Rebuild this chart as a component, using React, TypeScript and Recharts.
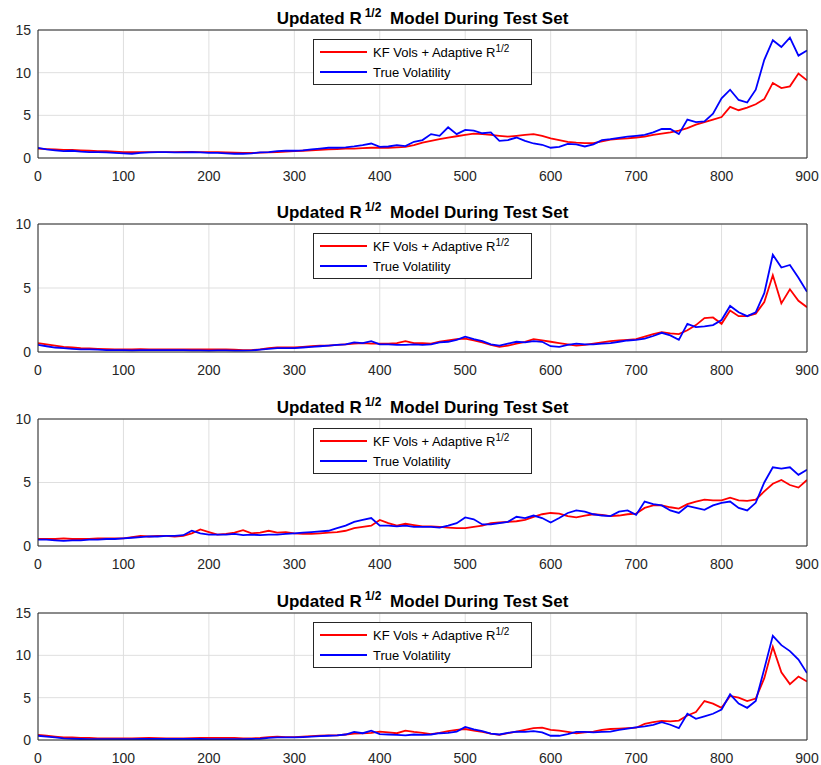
import React from 'react';
import { LineChart, Line, XAxis, YAxis, CartesianGrid, Legend } from 'recharts';

// Time index of the test set (sampled every 10 steps)
const steps = [
  0, 10, 20, 30, 40, 50, 60, 70, 80, 90,
  100, 110, 120, 130, 140, 150, 160, 170, 180, 190,
  200, 210, 220, 230, 240, 250, 260, 270, 280, 290,
  300, 310, 320, 330, 340, 350, 360, 370, 380, 390,
  400, 410, 420, 430, 440, 450, 460, 470, 480, 490,
  500, 510, 520, 530, 540, 550, 560, 570, 580, 590,
  600, 610, 620, 630, 640, 650, 660, 670, 680, 690,
  700, 710, 720, 730, 740, 750, 760, 770, 780, 790,
  800, 810, 820, 830, 840, 850, 860, 870, 880, 890,
  900,
];

const xTicks = [0, 100, 200, 300, 400, 500, 600, 700, 800, 900];
const yTicks15 = [0, 5, 10, 15];
const yTicks10 = [0, 5, 10];

const kfName = 'KF Vols + Adaptive R^{1/2}';
const tvName = 'True Volatility';
const titleMain = 'Updated R';
const titleSup = '1/2';
const titleRest = 'Model During Test Set';

// Panel 1
const kf1 = [
  1.1, 1.05, 1.0, 0.95, 0.95, 0.9, 0.85, 0.8, 0.8, 0.75,
  0.7, 0.7, 0.7, 0.7, 0.7, 0.7, 0.7, 0.72, 0.72, 0.7,
  0.7, 0.68, 0.65, 0.62, 0.6, 0.6, 0.62, 0.65, 0.7, 0.75,
  0.8, 0.85, 0.9, 0.95, 1.0, 1.05, 1.1, 1.1, 1.15, 1.2,
  1.2, 1.2, 1.25, 1.3, 1.5, 1.8, 2.0, 2.2, 2.4, 2.55,
  2.7, 2.85, 2.8, 2.7, 2.6, 2.5, 2.6, 2.7, 2.8, 2.6,
  2.3, 2.1, 1.9, 1.8, 1.75, 1.75, 1.95, 2.15, 2.25, 2.3,
  2.4, 2.5, 2.7, 2.85, 3.0, 3.2, 3.5, 3.9, 4.2, 4.5,
  4.8, 6.0, 5.6, 5.9, 6.3, 6.9, 8.8, 8.2, 8.4, 9.9,
  9.1,
];
const tv1 = [
  1.2, 1.0, 0.9, 0.8, 0.85, 0.75, 0.7, 0.7, 0.65, 0.6,
  0.55, 0.5, 0.6, 0.65, 0.7, 0.7, 0.65, 0.65, 0.7, 0.65,
  0.6, 0.6, 0.55, 0.5, 0.5, 0.55, 0.65, 0.7, 0.8, 0.85,
  0.85, 0.9, 1.0, 1.1, 1.2, 1.2, 1.25, 1.35, 1.5, 1.7,
  1.3, 1.35, 1.5, 1.4, 1.9, 2.1, 2.8, 2.6, 3.6, 2.8,
  3.3, 3.2, 2.9, 3.0, 2.0, 2.1, 2.4, 2.0, 1.7, 1.55,
  1.2, 1.3, 1.65, 1.6, 1.35, 1.6, 2.1, 2.2, 2.35, 2.5,
  2.6, 2.7, 3.0, 3.4, 3.4, 2.8, 4.5, 4.2, 4.3, 5.2,
  7.0, 8.0, 6.8, 6.5, 8.0, 11.5, 13.8, 13.0, 14.1, 12.0,
  12.6,
];

// Panel 2
const kf2 = [
  0.7, 0.6, 0.5, 0.4, 0.35, 0.3, 0.28, 0.25, 0.22, 0.2,
  0.2, 0.2, 0.22, 0.2, 0.2, 0.2, 0.2, 0.2, 0.2, 0.2,
  0.2, 0.2, 0.2, 0.18, 0.15, 0.15, 0.2, 0.3, 0.35, 0.35,
  0.35, 0.4, 0.45, 0.5, 0.5, 0.55, 0.6, 0.65, 0.7, 0.65,
  0.65, 0.65, 0.7, 0.85, 0.7, 0.7, 0.65, 0.8, 0.9, 1.0,
  1.05, 0.9, 0.75, 0.55, 0.4, 0.5, 0.65, 0.8, 1.0, 0.9,
  0.8, 0.7, 0.6, 0.5, 0.55, 0.65, 0.75, 0.85, 0.9, 0.95,
  1.0, 1.2, 1.4, 1.55, 1.45, 1.4, 1.7, 2.1, 2.65, 2.7,
  2.2, 3.25, 2.8, 2.8, 3.0, 3.9, 6.0, 3.8, 4.9, 4.0,
  3.5,
];
const tv2 = [
  0.55, 0.45, 0.35, 0.3, 0.25, 0.2, 0.2, 0.18, 0.15, 0.15,
  0.15, 0.12, 0.15, 0.15, 0.15, 0.15, 0.15, 0.15, 0.12, 0.12,
  0.1, 0.12, 0.12, 0.1, 0.1, 0.12, 0.18, 0.25, 0.3, 0.3,
  0.3, 0.35, 0.4, 0.45, 0.5, 0.55, 0.6, 0.75, 0.7, 0.85,
  0.6, 0.6, 0.55, 0.55, 0.6, 0.55, 0.6, 0.75, 0.8, 0.95,
  1.2, 1.0, 0.85, 0.6, 0.5, 0.65, 0.8, 0.75, 0.85, 0.8,
  0.45, 0.4, 0.55, 0.65, 0.6, 0.6, 0.65, 0.7, 0.8, 0.9,
  0.95, 1.05, 1.25, 1.5, 1.3, 0.95, 2.2, 1.95, 2.0, 2.1,
  2.5, 3.6, 3.1, 2.8, 3.1, 4.6, 7.6, 6.6, 6.8, 5.8,
  4.7,
];

// Panel 3
const kf3 = [
  0.55, 0.55, 0.55, 0.6, 0.55, 0.55, 0.55, 0.6, 0.6, 0.6,
  0.6, 0.7, 0.8, 0.75, 0.8, 0.8, 0.75, 0.8, 1.0, 1.3,
  1.1, 0.9, 0.95, 1.05, 1.25, 1.0, 1.05, 1.2, 1.05, 1.1,
  1.0, 0.95, 0.95, 1.0, 1.05, 1.1, 1.2, 1.4, 1.5, 1.6,
  2.05, 1.8, 1.6, 1.75, 1.65, 1.55, 1.55, 1.5, 1.45, 1.4,
  1.4, 1.5, 1.6, 1.8, 1.85, 1.9, 1.95, 2.05, 2.3, 2.5,
  2.6, 2.55, 2.35, 2.25, 2.4, 2.5, 2.45, 2.35, 2.4, 2.5,
  2.55, 3.0, 3.2, 3.2, 3.05, 2.95, 3.3, 3.5, 3.65, 3.6,
  3.6, 3.8, 3.6, 3.55, 3.65, 4.3, 4.9, 5.2, 4.8, 4.6,
  5.2,
];
const tv3 = [
  0.5, 0.5, 0.45, 0.4, 0.45, 0.45, 0.5, 0.5, 0.55, 0.55,
  0.6, 0.65, 0.7, 0.75, 0.75, 0.8, 0.8, 0.85, 1.2, 1.0,
  0.9, 0.9, 0.9, 0.95, 0.85, 0.9, 0.85, 0.9, 0.9, 0.95,
  1.0, 1.05, 1.1, 1.15, 1.2, 1.4, 1.6, 1.9, 2.05, 2.2,
  1.6, 1.6, 1.55, 1.6, 1.5, 1.5, 1.5, 1.45, 1.6, 1.8,
  2.25, 2.1, 1.7, 1.7, 1.8, 1.9, 2.3, 2.2, 2.4, 2.2,
  1.85, 2.2, 2.6, 2.8, 2.7, 2.5, 2.4, 2.35, 2.7, 2.8,
  2.45, 3.5, 3.3, 3.2, 2.8, 2.6, 3.15, 3.0, 2.85, 3.2,
  3.4, 3.5, 3.0, 2.8, 3.4, 5.0, 6.2, 6.1, 6.2, 5.6,
  6.0,
];

// Panel 4
const kf4 = [
  0.6, 0.5, 0.4, 0.3, 0.3, 0.25, 0.25, 0.2, 0.2, 0.2,
  0.2, 0.2, 0.22, 0.25, 0.22, 0.2, 0.2, 0.2, 0.22, 0.25,
  0.25, 0.25, 0.25, 0.25, 0.2, 0.2, 0.25, 0.35, 0.4, 0.35,
  0.35, 0.4, 0.45, 0.5, 0.55, 0.55, 0.65, 0.75, 0.8, 0.85,
  1.0, 0.9, 0.8, 1.1, 0.95, 0.85, 0.7, 0.85, 1.05, 1.2,
  1.3, 1.1, 0.95, 0.75, 0.6, 0.8, 1.0, 1.2, 1.4, 1.45,
  1.2, 1.1, 0.95, 0.8, 0.9, 1.0, 1.2, 1.3, 1.35, 1.4,
  1.45, 1.9, 2.1, 2.25, 2.2, 2.3, 2.9, 3.3, 4.6, 4.3,
  3.8, 5.2, 5.0, 4.6, 4.9, 7.3, 11.0, 8.0, 6.6, 7.5,
  6.9,
];
const tv4 = [
  0.5, 0.4, 0.3, 0.2, 0.15, 0.12, 0.1, 0.1, 0.1, 0.1,
  0.1, 0.1, 0.12, 0.12, 0.12, 0.12, 0.12, 0.12, 0.12, 0.12,
  0.1, 0.1, 0.1, 0.1, 0.1, 0.12, 0.15, 0.25, 0.3, 0.3,
  0.3, 0.35, 0.4, 0.45, 0.5, 0.55, 0.65, 0.95, 0.8, 1.1,
  0.7, 0.65, 0.6, 0.55, 0.65, 0.6, 0.65, 0.8, 0.85, 1.0,
  1.55, 1.25, 1.05, 0.75, 0.65, 0.85, 1.0, 0.95, 1.05, 0.9,
  0.5, 0.5, 0.7, 0.95, 0.95, 0.9, 0.95, 1.0, 1.2, 1.35,
  1.5, 1.6, 1.8, 2.1, 1.8, 1.4, 3.1, 2.5, 2.8, 3.1,
  3.6, 5.4, 4.3, 3.8, 4.6, 8.4, 12.3, 11.2, 10.5, 9.5,
  7.9,
];

const FONT = '"Liberation Sans", Arial, Helvetica, sans-serif';
const AXIS = '#262626';
const GRID = '#dfdfdf';
const RED = '#ff0000';
const BLUE = '#0000ff';

// Renders "text^{sup}" with a raised superscript
function withSup(label: string, supSize: number, raise: number) {
  const m = label.match(/^(.*)\^\{(.*)\}$/);
  if (!m) return label;
  return (
    <>
      {m[1]}
      <span style={{ fontSize: supSize, position: 'relative', top: -raise }}>{m[2]}</span>
    </>
  );
}

const renderLegend = (props: any) => {
  const payload = props.payload || [];
  return (
    <div
      style={{
        boxSizing: 'border-box',
        width: 219,
        height: 46,
        border: `1px solid ${AXIS}`,
        background: '#ffffff',
        fontFamily: FONT,
        fontSize: 13,
        color: '#000000',
        position: 'relative',
      }}
    >
      {payload.map((entry: any, i: number) => (
        <div
          key={i}
          style={{
            position: 'absolute',
            left: 6,
            top: 2 + i * 20,
            height: 20,
            display: 'flex',
            alignItems: 'center',
            whiteSpace: 'nowrap',
          }}
        >
          <svg width={47} height={4} style={{ display: 'block' }}>
            <line x1={0} y1={2} x2={47} y2={2} stroke={entry.color} strokeWidth={2} />
          </svg>
          <span style={{ marginLeft: 6 }}>{withSup(String(entry.value), 10, 5)}</span>
        </div>
      ))}
    </div>
  );
};

type PanelProps = {
  top: number;
  plotH: number;
  kf: number[];
  tv: number[];
  yMax: number;
  yTicks: number[];
};

function Panel({ top, plotH, kf, tv, yMax, yTicks }: PanelProps) {
  const data = steps.map((t, i) => ({ t, kf: kf[i], tv: tv[i] }));
  const marginTop = 30;
  const height = marginTop + plotH + 30 + 7;
  const tickFont = { fill: AXIS, fontSize: 14, fontFamily: FONT };
  return (
    <div style={{ position: 'absolute', left: 0, top, width: 821, height }}>
      <div
        style={{
          position: 'absolute',
          left: 38,
          width: 769,
          top: marginTop - 6 - 14.4,
          textAlign: 'center',
          fontFamily: FONT,
          fontWeight: 'bold',
          fontSize: 17,
          lineHeight: '17px',
          color: '#000000',
          whiteSpace: 'nowrap',
          zIndex: 2,
        }}
      >
        {titleMain}
        <span style={{ fontSize: 12, position: 'relative', top: -7, marginLeft: 3, marginRight: 4 }}>{titleSup}</span>{' '}
        {titleRest}
      </div>
      <LineChart width={821} height={height} data={data} margin={{ top: marginTop, right: 14, bottom: 7, left: 0 }}>
        <CartesianGrid stroke={GRID} strokeWidth={1} />
        <XAxis
          dataKey="t"
          type="number"
          domain={[0, 900]}
          ticks={xTicks}
          allowDataOverflow
          interval={0}
          height={30}
          tickLine={false}
          tickSize={0}
          tickMargin={13}
          axisLine={{ stroke: AXIS }}
          tick={tickFont}
        />
        <XAxis
          xAxisId="bottomTicks"
          dataKey="t"
          type="number"
          domain={[0, 900]}
          ticks={xTicks}
          allowDataOverflow
          interval={0}
          mirror
          height={10}
          tick={false}
          tickSize={5}
          tickLine={{ stroke: AXIS }}
          axisLine={false}
        />
        <XAxis
          xAxisId="topTicks"
          orientation="top"
          dataKey="t"
          type="number"
          domain={[0, 900]}
          ticks={xTicks}
          allowDataOverflow
          interval={0}
          mirror
          height={10}
          tick={false}
          tickSize={5}
          tickLine={{ stroke: AXIS }}
          axisLine={{ stroke: AXIS }}
        />
        <YAxis
          type="number"
          domain={[0, yMax]}
          ticks={yTicks}
          allowDataOverflow
          interval={0}
          width={38}
          tickLine={false}
          tickSize={0}
          tickMargin={7}
          axisLine={{ stroke: AXIS }}
          tick={tickFont}
        />
        <YAxis
          yAxisId="leftTicks"
          type="number"
          domain={[0, yMax]}
          ticks={yTicks}
          allowDataOverflow
          interval={0}
          mirror
          width={10}
          tick={false}
          tickSize={5}
          tickLine={{ stroke: AXIS }}
          axisLine={false}
        />
        <YAxis
          yAxisId="rightTicks"
          orientation="right"
          type="number"
          domain={[0, yMax]}
          ticks={yTicks}
          allowDataOverflow
          interval={0}
          mirror
          width={10}
          tick={false}
          tickSize={5}
          tickLine={{ stroke: AXIS }}
          axisLine={{ stroke: AXIS }}
        />
        <Line
          type="linear"
          dataKey="kf"
          name={kfName}
          stroke={RED}
          strokeWidth={1.8}
          dot={false}
          isAnimationActive={false}
        />
        <Line
          type="linear"
          dataKey="tv"
          name={tvName}
          stroke={BLUE}
          strokeWidth={1.8}
          dot={false}
          isAnimationActive={false}
        />
        <Legend
          layout="vertical"
          align="center"
          verticalAlign="middle"
          content={renderLegend}
          wrapperStyle={{ left: 313, top: marginTop + 9.3, width: 219, height: 46 }}
        />
      </LineChart>
    </div>
  );
}

export default function App() {
  return (
    <div style={{ position: 'absolute', left: 0, top: 0, width: 821, height: 765, background: '#ffffff' }}>
      <Panel top={0} plotH={128} kf={kf1} tv={tv1} yMax={15} yTicks={yTicks15} />
      <Panel top={194} plotH={128} kf={kf2} tv={tv2} yMax={10} yTicks={yTicks10} />
      <Panel top={389} plotH={127} kf={kf3} tv={tv3} yMax={10} yTicks={yTicks10} />
      <Panel top={583} plotH={127} kf={kf4} tv={tv4} yMax={15} yTicks={yTicks15} />
    </div>
  );
}
